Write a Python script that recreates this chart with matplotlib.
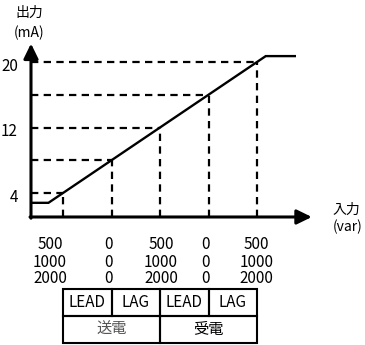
import matplotlib
matplotlib.use("Agg")
import matplotlib.pyplot as plt
from matplotlib.patches import Rectangle

# ---------------- data ----------------
out_points = [4, 8, 12, 16, 20]                 # mA at the five input marks
in_index = [0, 1, 2, 3, 4]                      # positions of the five input marks
ytick_labels = ["20", "12", "4"]
ytick_values = [20, 12, 4]
row1 = ["500", "0", "500", "0", "500"]
row2 = ["1000", "0", "1000", "0", "1000"]
row3 = ["2000", "0", "2000", "0", "2000"]
curve_x = [-0.62, -0.30, 4.18, 4.78]            # transfer curve (with limits)
curve_y = [2.8, 2.8, 20.72, 20.72]
table_top = ["LEAD", "LAG", "LEAD", "LAG"]
table_bottom = ["送電", "受電"]

# ---------------- fonts ----------------
LAT = ["Noto Sans CJK JP", "DejaVu Sans"]
JP = ["Noto Sans CJK JP", "DejaVu Sans"]

# ---------------- figure ----------------
fig = plt.figure(figsize=(3.65, 3.45), dpi=100)
ax = fig.add_axes([0, 0, 1, 1])
# pixel mapping: index i -> 63 + 48.5 i ; mA -> 193 - (mA-4)*8.1875
sx, ox = 48.5, 63.0
sy, oy = 8.1875, 193.0
ax.set_xlim((0 - ox) / sx, (365 - ox) / sx)
ax.set_ylim(4 - (345 - oy) / sy, 4 + oy / sy)
ax.axis("off")

x_axis_y = 1.07
y_axis_x = -0.66

# dashed guides
for xi, yi in zip(in_index, out_points):
    ax.plot([y_axis_x, xi], [yi, yi], color="k", lw=1.6, ls=(0, (3.3, 2.4)), solid_capstyle="butt")
    ax.plot([xi, xi], [x_axis_y, yi], color="k", lw=1.6, ls=(0, (3.3, 2.4)), solid_capstyle="butt")

# transfer curve
ax.plot(curve_x, curve_y, color="k", lw=1.7, solid_joinstyle="miter")

# axes with arrows
arr = dict(arrowstyle="-|>,head_length=0.45,head_width=0.22", lw=2.2, color="k",
           shrinkA=0, shrinkB=0, mutation_scale=20)
ax.annotate("", xy=(y_axis_x, 22.25), xytext=(y_axis_x, x_axis_y - 0.15), arrowprops=arr)
ax.annotate("", xy=(5.13, x_axis_y), xytext=(y_axis_x - 0.02, x_axis_y), arrowprops=arr)

# y tick labels
for v, t in zip(ytick_values, ytick_labels):
    ax.text(-0.93, v - 0.5, t, ha="right", va="center", fontsize=11, family=LAT)

# axis titles
ax.text(-0.70, 25.98, "出力", ha="center", va="center", fontsize=10, family=JP)
ax.text(-0.70, 23.5, "(mA)", ha="center", va="center", fontsize=10, family=LAT)
ax.text(5.56, 1.95, "入力", ha="left", va="center", fontsize=10, family=JP)
ax.text(5.56, -0.15, "(var)", ha="left", va="center", fontsize=10, family=LAT)

# input value rows
col_x = [-0.27, 0.93, 2.02, 2.93, 3.99]
for ry, row in zip([-2.35, -4.43, -6.5], [row1, row2, row3]):
    for cx, t in zip(col_x, row):
        ax.text(cx, ry, t, ha="center", va="center", fontsize=11, family=LAT)

# table
t_top, t_mid, t_bot = -7.72, -11.02, -14.32
lw_t = 1.5
for i, lab in enumerate(table_top):
    ax.add_patch(Rectangle((i, t_mid), 1, t_top - t_mid, fill=False, lw=lw_t, ec="k"))
    ax.text(i + 0.5, (t_top + t_mid) / 2, lab, ha="center", va="center", fontsize=11, family=LAT)
for j, lab in enumerate(table_bottom):
    ax.add_patch(Rectangle((2 * j, t_bot), 2, t_mid - t_bot, fill=False, lw=lw_t, ec="k"))
    ax.text(2 * j + 1, (t_mid + t_bot) / 2, lab, ha="center", va="center", fontsize=11,
            family=JP, color="#555555" if j == 0 else "k")

fig.savefig("out.png", dpi=100)
